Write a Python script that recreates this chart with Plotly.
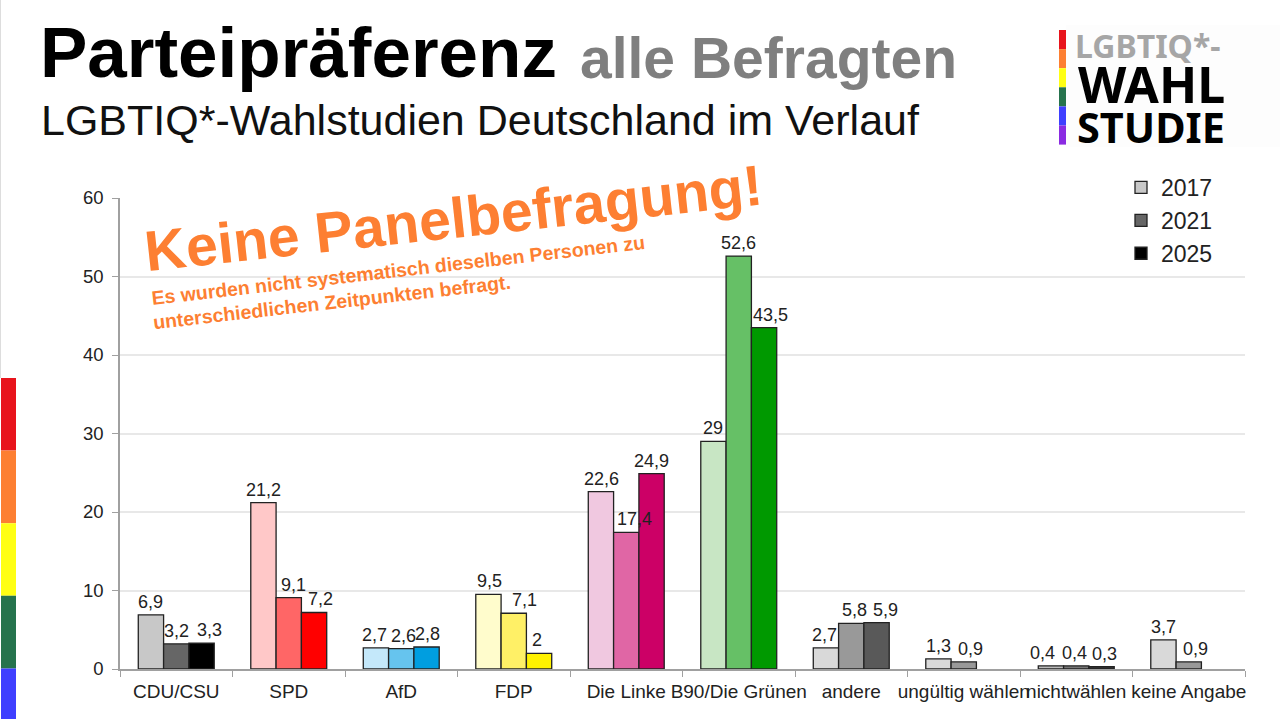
import plotly.graph_objects as go

W, H = 1280, 719
# Plotbereich in Pixeln
PL, PR, PT, PB = 120, 1245, 198, 669

categories = ['CDU/CSU', 'SPD', 'AfD', 'FDP', 'Die Linke', 'B90/Die Grünen', 'andere',
              'ungültig wählen', 'nichtwählen', 'keine Angabe']
werte_2017 = [6.9, 21.2, 2.7, 9.5, 22.6, 29, 2.7, 1.3, 0.4, 3.7]
werte_2021 = [3.2, 9.1, 2.6, 7.1, 17.4, 52.6, 5.8, 0.9, 0.4, 0.9]
werte_2025 = [3.3, 7.2, 2.8, 2, 24.9, 43.5, 5.9, None, 0.3, None]

farben_2017 = ['#c8c8c8', '#ffc8c8', '#c4e8fa', '#fffccc', '#f0c8e0', '#c8e6c4', '#d9d9d9', '#d9d9d9', '#bbbbbb', '#d9d9d9']
farben_2021 = ['#666666', '#ff6666', '#66c4ee', '#fff066', '#e066a5', '#66c066', '#999999', '#999999', '#777777', '#999999']
farben_2025 = ['#000000', '#ff0000', '#009ee0', '#fff200', '#cc0066', '#009900', '#595959', '#595959', '#333333', '#595959']

# seitlicher Versatz der Wertelabels in Pixeln
versatz_2017 = [0, 0, -1, 1, 1, 0, -1, 0, -8, 0]
versatz_2021 = [0, 5, 2, 11, 8, 0, 3, 7, -2, 7]
versatz_2025 = [8, 6, 1, -2, 0, 6, 9, 0, 3, 0]

y_ticks = [0, 10, 20, 30, 40, 50, 60]
regenbogen = ['#e8141c', '#fd7f32', '#ffff14', '#26734d', '#3f3fff', '#8a2be2']

BALKEN = (PR - PL) / len(categories) * 0.675 / 3


def px(x):
    return (x - PL) / (PR - PL)


def py(y):
    return (PB - y) / (PB - PT)


def text(x, y, s, size, color, bold=False, family='Liberation Sans', angle=0, xanchor='left'):
    return dict(x=px(x), y=py(y), xref='paper', yref='paper', text='<b>%s</b>' % s if bold else s,
                showarrow=False, xanchor=xanchor, yanchor='middle', textangle=angle,
                font=dict(family=family, size=size, color=color))


fig = go.Figure()
annotations = []
reihen = [('2017', werte_2017, farben_2017, versatz_2017),
          ('2021', werte_2021, farben_2021, versatz_2021),
          ('2025', werte_2025, farben_2025, versatz_2025)]
for i, (name, werte, farben, versatz) in enumerate(reihen):
    fig.add_trace(go.Bar(
        name=name, x=categories, y=werte,
        marker=dict(color=farben, line=dict(color='#222222', width=1.3)),
    ))
    for cat, v, dx in zip(categories, werte, versatz):
        if v is None:
            continue
        annotations.append(dict(x=cat, y=v, xref='x', yref='y', text=str(v).replace('.', ','),
                                showarrow=False, yanchor='bottom', yshift=1,
                                xshift=(i - 1) * BALKEN + dx,
                                font=dict(family='Liberation Sans', size=18, color='#222222')))

# Farbstreifen links und am Logo
shapes = [dict(type='rect', xref='paper', yref='paper', x0=px(1066), x1=px(W), y0=py(147), y1=py(25),
               fillcolor='#fdfdfd', line_width=0, layer='below'),
          dict(type='rect', xref='paper', yref='paper', x0=px(0), x1=px(1), y0=py(378), y1=py(0),
               fillcolor='#dddddd', line_width=0, layer='below')]
for i, farbe in enumerate(regenbogen[:5]):
    shapes.append(dict(type='rect', xref='paper', yref='paper', x0=px(1), x1=px(16),
                       y0=py(378 + i * 72.6), y1=py(378 + (i + 1) * 72.6), fillcolor=farbe, line_width=0))
for i, farbe in enumerate(regenbogen):
    shapes.append(dict(type='rect', xref='paper', yref='paper', x0=px(1059), x1=px(1066),
                       y0=py(30 + i * 19.1), y1=py(30 + (i + 1) * 19.1), fillcolor=farbe, line_width=0))

annotations += [
    text(38, 52, 'Parteipräferenz', 71, '#000000', True),
    text(578, 58, 'alle Befragten', 57, '#7f7f7f', True),
    text(39, 120, 'LGBTIQ*-Wahlstudien Deutschland im Verlauf', 43, '#111111'),
    text(453, 218, 'Keine Panelbefragung!', 57, '#fd7f32', True, angle=-6.2, xanchor='center'),
    text(398, 269.5, 'Es wurden nicht systematisch dieselben Personen zu', 19.5, '#fd7f32', True, angle=-6.5, xanchor='center'),
    text(332, 302, 'unterschiedlichen Zeitpunkten befragt.', 19.5, '#fd7f32', True, angle=-6.5, xanchor='center'),
    text(1073, 45, 'LGBTIQ*-', 32, '#a6a6a6', True, 'Noto Sans'),
    text(1076, 84, 'WAHL', 50, '#000000', True, 'Noto Sans'),
    text(1075, 127, 'STUDIE', 41.5, '#000000', True, 'Noto Sans'),
]

fig.update_layout(
    width=W, height=H,
    margin=dict(l=PL, r=W - PR, t=PT, b=H - PB),
    paper_bgcolor='white', plot_bgcolor='white',
    barmode='group', bargap=0.325, bargroupgap=0,
    font=dict(family='Liberation Sans', color='#222222'),
    xaxis=dict(type='category', tickangle=0, tickson='boundaries',
               ticks='outside', ticklen=6, tickcolor='#a0a0a0', showline=True, linecolor='#a0a0a0',
               linewidth=1.5, showgrid=False, ticklabelstandoff=4, tickfont=dict(size=19, color='#222222')),
    yaxis=dict(range=[0, 60], tickvals=y_ticks, ticks='outside', ticklen=6,
               tickcolor='#a0a0a0', showline=True, linecolor='#a0a0a0', linewidth=1.5, ticklabelstandoff=5,
               gridcolor='#e8e8e8', gridwidth=2, zeroline=False, tickfont=dict(size=18.5, color='#222222')),
    legend=dict(x=px(1121), y=py(166), xanchor='left', yanchor='top',
                bgcolor='rgba(0,0,0,0)', font=dict(family='Liberation Sans', size=23, color='#222222')),
    shapes=shapes, annotations=annotations,
)

fig.write_html("out.html", config=dict(displayModeBar=False), post_script="document.body.style.margin='0';")
